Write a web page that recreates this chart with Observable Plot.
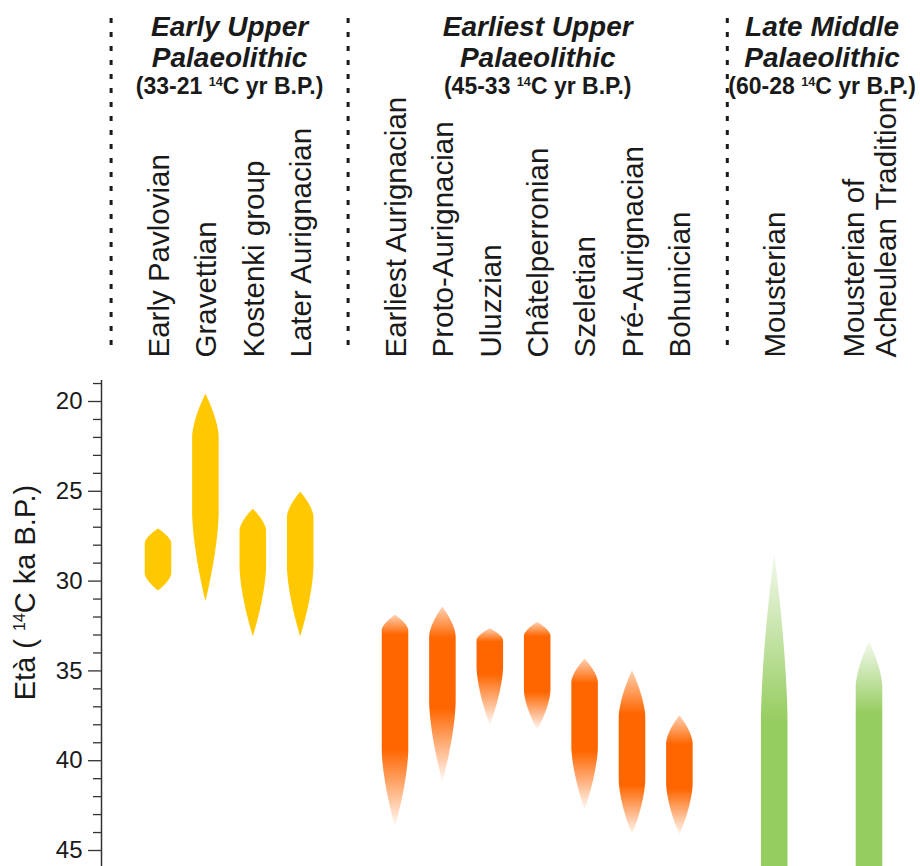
<!DOCTYPE html>
<html>
<head>
<meta charset="utf-8">
<script src="https://cdn.jsdelivr.net/npm/d3@7"></script>
<script src="https://cdn.jsdelivr.net/npm/@observablehq/plot@0.6"></script>
<style>
  html, body { margin: 0; padding: 0; background: #fff; }
  #chart svg { display: block; }
</style>
</head>
<body>
<div id="chart"></div>
<script>
// Cultural periods shown as columns
const groupTitles = ["Early Upper\nPalaeolithic", "Earliest Upper\nPalaeolithic", "Late Middle\nPalaeolithic"];
const groupRanges = ["(33-21 ¹⁴C yr B.P.)", "(45-33 ¹⁴C yr B.P.)", "(60-28 ¹⁴C yr B.P.)"];

// Industries and the period each belongs to
const cultures = [
  "Early Pavlovian", "Gravettian", "Kostenki group", "Later Aurignacian",
  "Earliest Aurignacian", "Proto-Aurignacian", "Uluzzian", "Châtelperronian",
  "Szeletian", "Pré-Aurignacian", "Bohunician",
  "Mousterian", "Mousterian of\nAcheulean Tradition"
];
const cultureGroup = [0, 0, 0, 0, 1, 1, 1, 1, 1, 1, 1, 2, 2];

// Age ranges (14C ka B.P.): youngest date, span of densest dates, oldest date
const youngestAge  = [27.1, 19.6, 26.0, 25.05, 31.9, 31.45, 32.65, 32.3, 34.35, 35.0, 37.5, 28.5, 33.4];
const coreFromAge  = [27.9, 22.0, 27.2, 26.45, 32.75, 33.1, 33.3, 33.05, 35.65, 37.6, 39.05, 37.8, 35.9];
const coreToAge    = [29.6, 26.2, 29.2, 29.2, 39.4, 36.7, 34.8, 36.1, 39.25, 41.1, 41.3, 60, 60];
const oldestAge    = [30.55, 31.15, 33.1, 33.1, 43.7, 41.2, 38.05, 38.3, 42.75, 44.15, 44.15, 60, 60];
// Span where the dating is considered secure (drawn at full strength)
const secureFromAge = [27.1, 19.6, 26.0, 25.05, 33.0, 33.2, 33.4, 33.1, 35.7, 37.4, 39.1, 37.8, 37.4];
const secureToAge   = [30.55, 31.15, 33.1, 33.1, 39.4, 37.1, 35.2, 36.2, 39.5, 41.4, 41.6, 60, 60];

// Axis ticks
const majorTicks = [20, 25, 30, 35, 40, 45];
const minorTicks = d3.range(19, 46).filter(d => d % 5 !== 0);
const yLabel = "Età ( ¹⁴C ka B.P.)";

// Styling
const palette = ["#ffc800", "#ff6600", "#96cd60"];
const youngTipOpacity = [1, 0.3, 0.12];
const oldTipOpacity = [1, 0.04, 1];
const halfWidth = 0.28;   // in column units
const taper = 1.6;
const ink = "#1a1a1a";
const font = "'Liberation Sans', Arial, Helvetica, sans-serif";

// Column layout: a separator opens each period, multi-line labels take extra room
let slot = 0;
const separators = [];
const columns = [];
groupTitles.forEach((g, gi) => {
  if (gi > 0) slot += 1;
  separators.push(slot);
  cultures.forEach((name, i) => {
    if (cultureGroup[i] !== gi) return;
    slot += name.split("\n").length;
    columns.push({i, name, slot, group: gi});
  });
});
const headers = groupTitles.map((title, gi) => {
  const cols = columns.filter(c => c.group === gi);
  return {title, range: groupRanges[gi], center: (cols[0].slot + cols[cols.length - 1].slot) / 2};
});
const xScale = {domain: [0, slot], range: [110.6, 869], axis: null};

// Header: period titles, dotted separators and rotated industry names
const header = Plot.plot({
  width: 920, height: 380,
  marginTop: 18, marginBottom: 26, marginLeft: 0, marginRight: 0,
  x: xScale,
  style: {fontFamily: font, color: ink, background: "white"},
  marks: [
    Plot.ruleX(separators, {x: d => d, stroke: ink, strokeWidth: 3, strokeDasharray: "5,9"}),
    Plot.text(headers, {x: "center", text: "title", frameAnchor: "top", lineAnchor: "top", dy: -4.5,
      fontSize: 28, fontWeight: "bold", fontStyle: "italic", lineHeight: 1.1, fill: ink}),
    Plot.text(headers, {x: "center", text: "range", frameAnchor: "top", lineAnchor: "top", dy: 59,
      fontSize: 23, fontWeight: "bold", fill: ink}),
    Plot.text(columns, {x: "slot", text: "name", frameAnchor: "bottom", rotate: -90, textAnchor: "start",
      lineAnchor: "middle", dy: 3, fontSize: 29.5, lineHeight: 1.09, fill: ink})
  ]
});

// Outline of each age range: pointed at both ends, full width over the core span
function outline(i, x) {
  const young = youngestAge[i], old = oldestAge[i];
  const from = coreFromAge[i], to = coreToAge[i];
  const ages = d3.range(young, old, 0.05).concat([from, to, old]).sort((a, b) => a - b);
  return ages.map(age => {
    let f = 1;
    if (age < from) f = 1 - Math.pow(1 - (age - young) / (from - young), taper);
    else if (age > to) f = 1 - Math.pow(1 - (old - age) / (old - to), taper);
    f = Math.max(0, Math.min(1, f));
    return {age, x1: x - halfWidth * f, x2: x + halfWidth * f};
  });
}

const shapes = columns.map(c => Plot.areaX(outline(c.i, c.slot), {
  y: "age", x1: "x1", x2: "x2", fill: `url(#range-${c.i})`, clip: true
}));

const chart = Plot.plot({
  width: 920, height: 486,
  marginTop: 0, marginBottom: 0, marginLeft: 101, marginRight: 0,
  x: xScale,
  y: {domain: [20, 45], range: [21, 470], label: null},
  style: {fontFamily: font, color: ink, background: "white"},
  marks: [
    ...shapes,
    Plot.frame({anchor: "left", stroke: "#333", strokeWidth: 1.5}),
    Plot.axisY(majorTicks, {tickSize: 13, tickPadding: 6, fontSize: 24, label: null, stroke: "#333", strokeWidth: 1.3, fill: ink}),
    Plot.axisY(minorTicks, {tickSize: 8, tickFormat: () => "", label: null, stroke: "#333", strokeWidth: 1.3}),
    Plot.text([yLabel], {frameAnchor: "left", rotate: -90, textAnchor: "middle", dx: -76, dy: -31, fontSize: 29, fill: ink})
  ]
});

// Gradients fading toward the less secure ends of each range
const defs = d3.select(chart).insert("defs", ":first-child");
columns.forEach(c => {
  const i = c.i, g = c.group;
  const span = oldestAge[i] - youngestAge[i];
  const stops = [
    [0, youngTipOpacity[g]],
    [(secureFromAge[i] - youngestAge[i]) / span, 1],
    [(secureToAge[i] - youngestAge[i]) / span, 1],
    [1, oldTipOpacity[g]]
  ];
  const lg = defs.append("linearGradient").attr("id", `range-${i}`)
    .attr("x1", 0).attr("y1", 0).attr("x2", 0).attr("y2", 1);
  stops.forEach(([o, op]) => lg.append("stop").attr("offset", o)
    .attr("stop-color", palette[g]).attr("stop-opacity", op));
});

const root = document.getElementById("chart");
root.append(header, chart);

// Render "¹⁴" as a true superscript
function superscripts(svg) {
  const ns = "http://www.w3.org/2000/svg";
  svg.querySelectorAll("text, tspan").forEach(el => {
    if (el.children.length) return;
    const s = el.textContent;
    if (!s.includes("¹⁴")) return;
    const size = parseFloat(getComputedStyle(el).fontSize);
    const [a, b] = s.split("¹⁴");
    el.textContent = "";
    const t1 = document.createElementNS(ns, "tspan"); t1.textContent = a;
    const t2 = document.createElementNS(ns, "tspan"); t2.textContent = "14";
    t2.setAttribute("font-size", size * 0.55);
    t2.setAttribute("baseline-shift", size * 0.36);
    const t3 = document.createElementNS(ns, "tspan"); t3.textContent = b;
    el.append(t1, t2, t3);
  });
}
superscripts(header);
superscripts(chart);
</script>
</body>
</html>
